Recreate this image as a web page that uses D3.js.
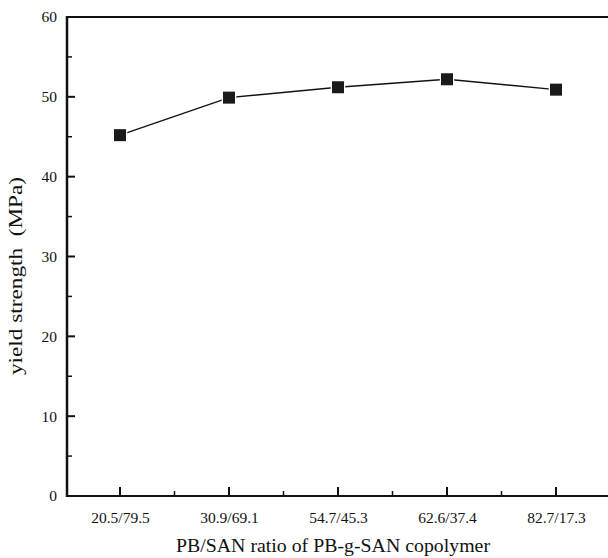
<!DOCTYPE html>
<html>
<head>
<meta charset="utf-8">
<script src="https://cdn.jsdelivr.net/npm/d3@7"></script>
<style>
  body { margin: 0; background: #fff; }
  text { font-family: "Liberation Serif", "Times New Roman", serif; fill: #111; }
</style>
</head>
<body>
<div id="chart"></div>
<script>
const categories = ['20.5/79.5', '30.9/69.1', '54.7/45.3', '62.6/37.4', '82.7/17.3'];
const yieldStrength = [45.2, 49.9, 51.2, 52.2, 50.9];
const yTicks = [0, 10, 20, 30, 40, 50, 60];

const W = 608, H = 558;
const margin = {top: 17, right: -3, bottom: 62, left: 67};
const width = W - margin.left - margin.right;
const height = H - margin.top - margin.bottom;

const svg = d3.select('#chart').append('svg')
    .attr('width', W)
    .attr('height', H)
    .append('g')
    .attr('transform', `translate(${margin.left},${margin.top})`);

const x = d3.scaleLinear()
    .domain([0.5, 5.5])
    .range([-1.5, 543.5]);

const y = d3.scaleLinear()
    .domain([0, 60])
    .range([height, 0]);

// y axis, ticks pointing inside
const yAxis = svg.append('g')
    .call(d3.axisLeft(y).tickValues(yTicks).tickSize(0).tickPadding(10));
yAxis.select('.domain').remove();
yAxis.selectAll('text').style('font-size', '15.5px').attr('font-family', null);

svg.selectAll('.ymajor')
    .data(yTicks)
    .enter().append('line')
    .attr('x1', 0).attr('x2', 8)
    .attr('y1', d => y(d)).attr('y2', d => y(d))
    .attr('stroke', '#111').attr('stroke-width', 2);

svg.selectAll('.yminor')
    .data(d3.range(5, 60, 10))
    .enter().append('line')
    .attr('x1', 0).attr('x2', 5)
    .attr('y1', d => y(d)).attr('y2', d => y(d))
    .attr('stroke', '#111').attr('stroke-width', 1.5);

// x axis
const xAxis = svg.append('g')
    .attr('transform', `translate(0,${height})`)
    .call(d3.axisBottom(x).tickValues([1, 2, 3, 4, 5]).tickFormat(d => categories[d - 1]).tickSize(0).tickPadding(16));
xAxis.select('.domain').remove();
xAxis.selectAll('text').style('font-size', '15.5px').attr('font-family', null);

svg.selectAll('.xmajor')
    .data([1, 2, 3, 4, 5])
    .enter().append('line')
    .attr('x1', d => x(d)).attr('x2', d => x(d))
    .attr('y1', height).attr('y2', height - 9)
    .attr('stroke', '#111').attr('stroke-width', 2);

svg.selectAll('.xminor')
    .data([1.5, 2.5, 3.5, 4.5])
    .enter().append('line')
    .attr('x1', d => x(d)).attr('x2', d => x(d))
    .attr('y1', height).attr('y2', height - 5)
    .attr('stroke', '#111').attr('stroke-width', 1.5);

// frame
svg.append('line')
    .attr('x1', 0).attr('x2', width).attr('y1', 0).attr('y2', 0)
    .attr('stroke', '#111').attr('stroke-width', 2);
svg.append('line')
    .attr('x1', 0).attr('x2', width).attr('y1', height).attr('y2', height)
    .attr('stroke', '#111').attr('stroke-width', 2);
svg.append('line')
    .attr('x1', 0).attr('x2', 0).attr('y1', -1).attr('y2', height + 1)
    .attr('stroke', '#111').attr('stroke-width', 2.5);

// series
const points = categories.map((c, i) => ({i: i + 1, v: yieldStrength[i]}));

svg.append('path')
    .datum(points)
    .attr('fill', 'none')
    .attr('stroke', '#111')
    .attr('stroke-width', 1.4)
    .attr('d', d3.line().x(d => x(d.i)).y(d => y(d.v)));

svg.selectAll('.dot')
    .data(points)
    .enter().append('rect')
    .attr('class', 'dot')
    .attr('x', d => x(d.i) - 6)
    .attr('y', d => y(d.v) - 6)
    .attr('width', 12)
    .attr('height', 12)
    .attr('fill', '#1a1a1a')
    .attr('stroke', '#fff')
    .attr('stroke-width', 2.5)
    .attr('paint-order', 'stroke');

// titles
svg.append('text')
    .attr('text-anchor', 'middle')
    .attr('x', 266)
    .attr('y', height + 56)
    .attr('textLength', 314)
    .attr('lengthAdjust', 'spacingAndGlyphs')
    .style('font-size', '19.5px')
    .text('PB/SAN ratio of PB-g-SAN copolymer');

svg.append('text')
    .attr('text-anchor', 'middle')
    .attr('transform', 'rotate(-90)')
    .attr('x', -(276 - margin.top))
    .attr('y', -45)
    .attr('textLength', 198)
    .attr('lengthAdjust', 'spacingAndGlyphs')
    .style('font-size', '19.5px')
    .style('white-space', 'pre')
    .text('yield strength  (MPa)');
</script>
</body>
</html>
